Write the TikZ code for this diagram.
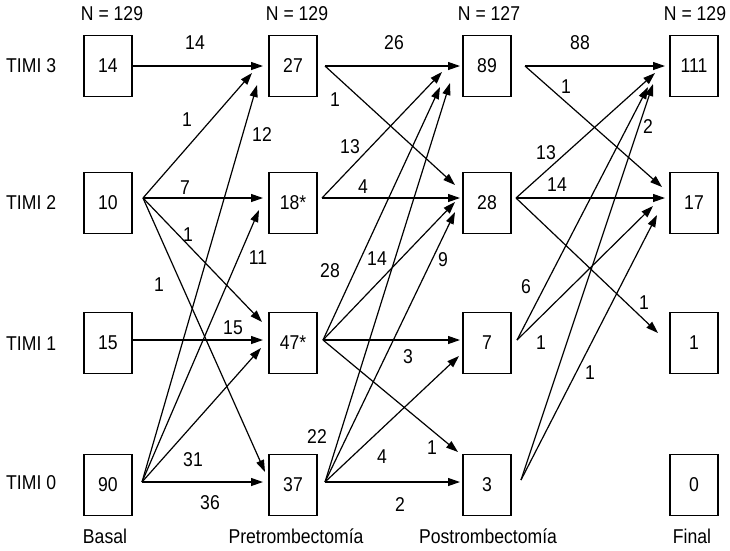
\documentclass[tikz,border=0pt]{standalone}
\usepackage{fontspec}
\setmainfont{Liberation Sans}[FakeStretch=0.88]
\usetikzlibrary{arrows.meta,calc}
\begin{document}
\begin{tikzpicture}[x=1pt,y=-1pt,
  every node/.style={font=\fontsize{20}{23}\selectfont,inner sep=0pt},
  box/.style={draw,line width=1.3pt,minimum width=48pt,minimum height=61pt},
  arr/.style={line width=1.2pt,-{Triangle[length=12pt,width=8pt]}}]
\useasboundingbox (0,0) rectangle (730,550);
% column headers
\node (h1) at (112,14) {N = 129};
\node (h2) at (297,14) {N = 129};
\node (h3) at (489,14) {N = 127};
\node (h4) at (695,14) {N = 129};
% row labels
\node[anchor=west] (r3) at (6,66) {TIMI 3};
\node[anchor=west] (r2) at (6,203) {TIMI 2};
\node[anchor=west] (r1) at (6,344) {TIMI 1};
\node[anchor=west] (r0) at (6,483) {TIMI 0};
% footers
\node (c1) at (105,536) {Basal};
\node (c2) at (296,536) {Pretrombectomía};
\node (c3) at (488,536) {Postrombectomía};
\node (c4) at (692,536) {Final};
% boxes
\node[box] (b14) at (108,66) {14};
\node[box] (b10) at (108,203) {10};
\node[box] (b15) at (108,343) {15};
\node[box] (b90) at (108,485) {90};
\node[box] (p27) at (293,66) {27};
\node[box] (p18) at (293,203) {18*};
\node[box] (p47) at (293,343) {47*};
\node[box] (p37) at (293,485) {37};
\node[box] (q89) at (487,66) {89};
\node[box] (q28) at (487,203) {28};
\node[box] (q7) at (487,343) {7};
\node[box] (q3) at (487,485) {3};
\node[box] (f111) at (694,66) {111};
\node[box] (f17) at (694,203) {17};
\node[box] (f1) at (694,343) {1};
\node[box] (f0) at (694,485) {0};
% start points
\coordinate (s14) at (133,66);
\coordinate (s10) at (143,198);
\coordinate (s15) at (133,340);
\coordinate (s90) at (142,482);
\coordinate (s27) at (325,66);
\coordinate (s18) at (322,198);
\coordinate (s47) at (323,340);
\coordinate (s37) at (325,482);
\coordinate (s89) at (525,66);
\coordinate (s28) at (516,198);
\coordinate (s7) at (517,340);
\coordinate (s3) at (521,480);
% tips
\coordinate (p27a) at (263,66);
\coordinate (p27b) at (252,73);
\coordinate (p27c) at (257,85);
\coordinate (p18a) at (263,198);
\coordinate (p18b) at (259,210);
\coordinate (p47a) at (262,322);
\coordinate (p47b) at (263,340);
\coordinate (p47c) at (261,348);
\coordinate (p37a) at (265,472);
\coordinate (p37b) at (263,482);
\coordinate (q89a) at (460,66);
\coordinate (q89b) at (442,72);
\coordinate (q89c) at (440,87);
\coordinate (q89d) at (450,83);
\coordinate (q28a) at (455,185);
\coordinate (q28b) at (460,198);
\coordinate (q28c) at (455,202);
\coordinate (q28d) at (455,212);
\coordinate (q7a) at (460,340);
\coordinate (q7b) at (459,356);
\coordinate (q3a) at (458,452);
\coordinate (q3b) at (460,482);
\coordinate (f111a) at (665,66);
\coordinate (f111b) at (655,73);
\coordinate (f111c) at (648,87);
\coordinate (f111d) at (653,84);
\coordinate (f17a) at (662,187);
\coordinate (f17b) at (665,198);
\coordinate (f17c) at (653,206);
\coordinate (f17d) at (657,215);
\coordinate (f1a) at (658,333);
% basal -> pre
\draw[arr] (s14) -- (p27a);
\draw[arr] (s10) -- (p27b);
\draw[arr] (s90) -- (p27c);
\draw[arr] (s10) -- (p18a);
\draw[arr] (s90) -- (p18b);
\draw[arr] (s10) -- (p47a);
\draw[arr] (s15) -- (p47b);
\draw[arr] (s90) -- (p47c);
\draw[arr] (s10) -- (p37a);
\draw[arr] (s90) -- (p37b);
% pre -> post
\draw[arr] (s27) -- (q89a);
\draw[arr] (s18) -- (q89b);
\draw[arr] (s47) -- (q89c);
\draw[arr] (s37) -- (q89d);
\draw[arr] (s27) -- (q28a);
\draw[arr] (s18) -- (q28b);
\draw[arr] (s47) -- (q28c);
\draw[arr] (s37) -- (q28d);
\draw[arr] (s47) -- (q7a);
\draw[arr] (s37) -- (q7b);
\draw[arr] (s47) -- (q3a);
\draw[arr] (s37) -- (q3b);
% post -> final
\draw[arr] (s89) -- (f111a);
\draw[arr] (s28) -- (f111b);
\draw[arr] (s7) -- (f111c);
\draw[arr] (s3) -- (f111d);
\draw[arr] (s89) -- (f17a);
\draw[arr] (s28) -- (f17b);
\draw[arr] (s7) -- (f17c);
\draw[arr] (s3) -- (f17d);
\draw[arr] (s28) -- (f1a);
% edge labels
\node (l1) at (195,43) {14};
\node (l2) at (187,120) {1};
\node (l3) at (262,135) {12};
\node (l4) at (185,188) {7};
\node (l5) at (188,235) {1};
\node (l6) at (258,258) {11};
\node (l7) at (159,285) {1};
\node (l8) at (233,328) {15};
\node (l9) at (193,460) {31};
\node (l10) at (210,503) {36};
\node (l11) at (394,43) {26};
\node (l12) at (335,100) {1};
\node (l13) at (350,147) {13};
\node (l14) at (363,187) {4};
\node (l15) at (330,271) {28};
\node (l16) at (377,259) {14};
\node (l17) at (443,260) {9};
\node (l18) at (408,357) {3};
\node (l19) at (317,437) {22};
\node (l20) at (382,457) {4};
\node (l21) at (432,448) {1};
\node (l22) at (400,505) {2};
\node (l23) at (580,43) {88};
\node (l24) at (566,87) {1};
\node (l25) at (648,127) {2};
\node (l26) at (546,153) {13};
\node (l27) at (557,185) {14};
\node (l28) at (526,287) {6};
\node (l29) at (644,303) {1};
\node (l30) at (541,343) {1};
\node (l31) at (590,373) {1};
\end{tikzpicture}
\end{document}
